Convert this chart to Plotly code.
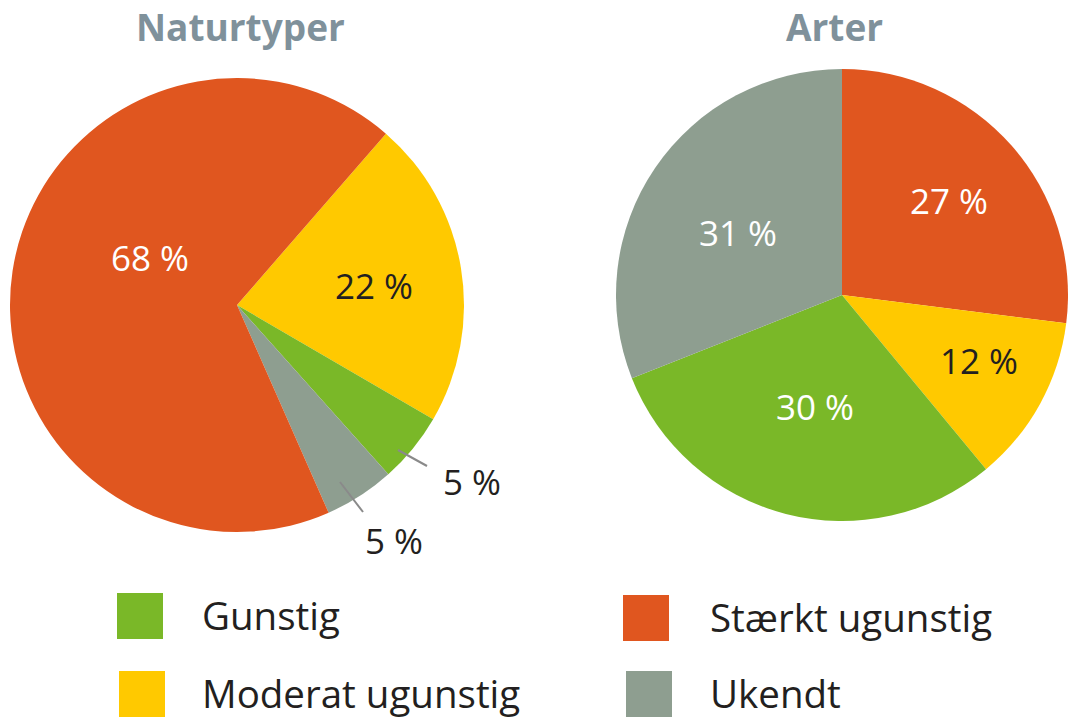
import plotly.graph_objects as go

W, H = 1068, 725

# Data
categories = ["Gunstig", "Moderat ugunstig", "Stærkt ugunstig", "Ukendt"]
colors = {"Gunstig": "#7AB828", "Moderat ugunstig": "#FFC900",
          "Stærkt ugunstig": "#E0561F", "Ukendt": "#8E9E90"}

natur_labels = ["Moderat ugunstig", "Gunstig", "Ukendt", "Stærkt ugunstig"]
natur_values = [22, 5, 5, 68]

arter_labels = ["Stærkt ugunstig", "Moderat ugunstig", "Gunstig", "Ukendt"]
arter_values = [27, 12, 30, 31]

titles = ["Naturtyper", "Arter"]


def px(x):
    return x / W


def py(y):
    return 1 - y / H


fig = go.Figure()

fig.add_trace(go.Pie(
    labels=natur_labels, values=natur_values, sort=False, direction="clockwise",
    rotation=41, textinfo="none", hoverinfo="label+percent",
    marker=dict(colors=[colors[l] for l in natur_labels], line=dict(width=0)),
    domain=dict(x=[px(10), px(464)], y=[py(532), py(78)]),
))
fig.add_trace(go.Pie(
    labels=arter_labels, values=arter_values, sort=False, direction="clockwise",
    rotation=0, textinfo="none", hoverinfo="label+percent",
    marker=dict(colors=[colors[l] for l in arter_labels], line=dict(width=0)),
    domain=dict(x=[px(616), px(1068)], y=[py(521), py(69)]),
))

annotations = []
FONT = "Open Sans"
title_color = "#7F919B"
for t, tx in zip(titles, (240, 834)):
    annotations.append(dict(x=px(tx), y=py(27), text="<b>" + t + "</b>", showarrow=False,
                            xref="paper", yref="paper", xanchor="center", yanchor="middle",
                            font=dict(family=FONT, size=37, color=title_color)))

LBL = 35
dark = "#231F20"
natur_pos = {"Stærkt ugunstig": (150, 257, "white"), "Moderat ugunstig": (374, 286, dark)}
for lab, val in zip(natur_labels, natur_values):
    if lab in natur_pos:
        x, y, c = natur_pos[lab]
        annotations.append(dict(x=px(x), y=py(y), text=f"{val} %", showarrow=False,
                                xref="paper", yref="paper", xanchor="center", yanchor="middle",
                                font=dict(family=FONT, size=LBL, color=c)))
outside = {"Gunstig": ((472, 481), (398, 450), (427, 466)),
           "Ukendt": ((394, 540), (340, 482), (363, 512))}
for lab, val in zip(natur_labels, natur_values):
    if lab in outside:
        (tx, ty), _, _ = outside[lab]
        annotations.append(dict(x=px(tx), y=py(ty), text=f"{val} %", showarrow=False,
                                xref="paper", yref="paper", xanchor="center", yanchor="middle",
                                font=dict(family=FONT, size=LBL, color=dark)))
arter_pos = {"Stærkt ugunstig": (949, 201, "white"), "Moderat ugunstig": (979, 360, dark),
             "Gunstig": (815, 406, "white"), "Ukendt": (738, 232, "white")}
for lab, val in zip(arter_labels, arter_values):
    x, y, c = arter_pos[lab]
    annotations.append(dict(x=px(x), y=py(y), text=f"{val} %", showarrow=False,
                            xref="paper", yref="paper", xanchor="center", yanchor="middle",
                            font=dict(family=FONT, size=LBL, color=c)))

shapes = []
for lab in outside:
    _, (x0, y0), (x1, y1) = outside[lab]
    shapes.append(dict(type="line", xref="paper", yref="paper", x0=px(x0), y0=py(y0),
                       x1=px(x1), y1=py(y1), line=dict(color="#8A8A8A", width=2)))

legend_pos = {"Gunstig": (117, 593, 200), "Moderat ugunstig": (119, 671, 200),
              "Stærkt ugunstig": (623, 595, 708), "Ukendt": (626, 671, 708)}
for lab in categories:
    sx, sy, tx = legend_pos[lab]
    shapes.append(dict(type="rect", xref="paper", yref="paper", x0=px(sx), x1=px(sx + 46),
                       y0=py(sy + 46), y1=py(sy), fillcolor=colors[lab], line=dict(width=0)))
    annotations.append(dict(x=px(tx), y=py(sy + 22), text=lab, showarrow=False,
                            xref="paper", yref="paper", xanchor="left", yanchor="middle",
                            font=dict(family=FONT, size=38.5, color=dark)))

fig.update_layout(width=W, height=H, margin=dict(l=0, r=0, t=0, b=0),
                  paper_bgcolor="white", plot_bgcolor="white", showlegend=False,
                  annotations=annotations, shapes=shapes)

fig.write_html("out.html", config={"displayModeBar": False},
               post_script="document.body.style.margin='0';document.body.style.overflow='hidden';")
